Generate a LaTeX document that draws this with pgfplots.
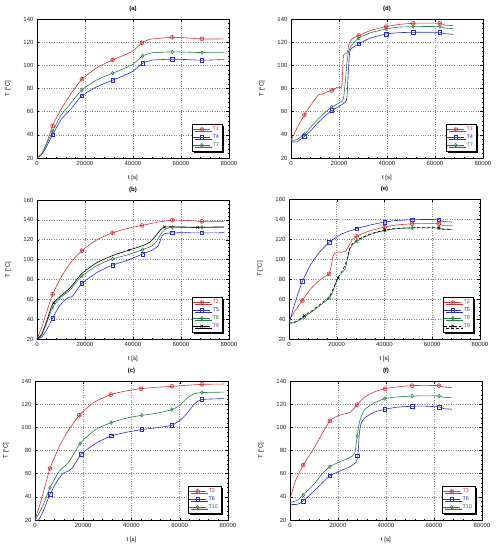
\documentclass[border=0pt]{standalone}
\usepackage{pgfplots}
\pgfplotsset{compat=1.18}
\usepackage{fontspec}
\setmainfont{Liberation Sans}
\usetikzlibrary{shadows}
\definecolor{myred}{RGB}{205,55,60}
\definecolor{myblue}{RGB}{45,45,195}
\definecolor{mygreen}{RGB}{40,125,70}
\definecolor{myviolet}{RGB}{110,60,150}
\pgfplotsset{
 panel/.style={
  scale only axis, width=192pt, height=139pt,
  xmin=0, xmax=80000, ymin=20,
  xtick={0,20000,40000,60000,80000},
  scaled x ticks=false,
  /pgf/number format/1000 sep={},
  /pgf/number format/assume math mode=true,
  tick label style={font=\fontsize{6}{7}\selectfont, text=black!85},
  grid=major, major grid style={dotted, gray!90, line width=0.6pt},
  minor x tick num=4, minor y tick num=4,
  tick align=inside, xtick pos=both, ytick pos=both,
  major tick length=2.5pt, minor tick length=1.3pt,
  tick style={black, line width=0.4pt},
  axis line style={black, line width=0.5pt},
  xlabel={t [s]}, ylabel={T [\textdegree C]},
  every axis x label/.style={at={(axis description cs:0.5,0)}, yshift=-20pt, anchor=center, font=\fontsize{6}{7}\selectfont},
  every axis y label/.style={at={(axis description cs:0,0.5)}, xshift=-29pt, rotate=90, anchor=center, font=\fontsize{6}{7}\selectfont},
  every axis title/.style={at={(axis description cs:0.5,1)}, yshift=10pt, anchor=center, font=\bfseries\fontsize{6}{7}\selectfont},
  legend style={at={(0.965,0.05)}, anchor=south east, font=\fontsize{5.5}{6}\selectfont,
    draw=black, line width=0.5pt, inner sep=1pt, row sep=-1.5pt, fill=white,
    drop shadow={shadow xshift=1.8pt, shadow yshift=-1.8pt, fill=black, opacity=1}},
  legend cell align=left,
  legend image code/.code={\draw[mark repeat=2,mark phase=2,#1] plot coordinates {(0cm,0cm) (0.3cm,0cm) (0.6cm,0cm)};},
 },
 ln/.style={smooth, tension=0.35, line width=0.6pt, no marks, forget plot},
 mk/.style={only marks, forget plot, mark size=2pt, line width=0.5pt},
 rs/.style={myred, mark=oplus, mark options={fill=none}},
 bs/.style={myblue, mark=square, mark size=1.8pt},
 gs/.style={mygreen, mark=diamond, mark size=1.8pt},
 ks/.style={black, mark=x, mark size=1.8pt},
}
\begin{document}
\begin{tikzpicture}
\useasboundingbox (0,0) rectangle (499pt,-550pt);
% ---------- (a)
\begin{axis}[panel, at={(37pt,-158pt)}, anchor=south west, ymax=140, ytick={20,40,...,140}, title={(a)}]
\addplot[ln, myred] coordinates {(0,20) (2000,24) (4000,33) (6500,47.8) (10000,62) (14000,75) (18700,88) (25000,98) (31500,104.7) (36000,108.5) (40000,112.5) (43700,119.5) (47000,122.5) (52000,123.5) (56400,124.2) (62000,123.7) (68700,122.8) (78000,122.8)};
\addplot[mk, rs] coordinates {(6500,47.8) (18700,88) (31500,104.7) (43700,119.5) (56400,124.2) (68700,122.8)};
\addplot[ln, myblue] coordinates {(0,20) (2000,23) (4000,30) (6500,40.1) (10000,53) (14000,62) (18700,73.7) (25000,81.5) (31500,87.2) (36000,91) (40000,95) (44000,101.8) (48000,104.5) (56400,105.3) (62000,105) (68700,104.4) (78000,105)};
\addplot[mk, bs] coordinates {(6500,40.1) (18700,73.7) (31500,87.2) (44000,101.8) (56400,105.3) (68700,104.4)};
\addplot[ln, mygreen] coordinates {(0,20) (2000,23.5) (4000,32) (6500,43) (10000,57) (14000,67) (18700,78.8) (25000,87.5) (31500,93.2) (36000,97) (40000,101) (44000,108.1) (48000,110.8) (56400,111.6) (62000,111.4) (68700,111) (78000,111)};
\addplot[mk, gs] coordinates {(6500,43) (18700,78.8) (31500,93.2) (44000,108.1) (56400,111.6) (68700,111)};
\addlegendimage{rs, line width=0.6pt}\addlegendentry{\textcolor{myred}{T1}}
\addlegendimage{bs, line width=0.6pt}\addlegendentry{\textcolor{myblue}{T4}}
\addlegendimage{gs, line width=0.6pt}\addlegendentry{\textcolor{mygreen}{T7}}
\end{axis}
% ---------- (d)
\begin{axis}[panel, at={(291pt,-158pt)}, anchor=south west, ymax=140, ytick={20,40,...,140}, title={(d)}]
\addplot[ln, myred] coordinates {(0,35) (2500,46) (5600,57.3) (8000,65) (11400,74.5) (13000,75) (15000,77) (17000,78.3) (17800,80) (18300,79) (19000,81) (20500,81) (21200,82) (21800,108) (22500,110) (23300,110) (24200,118) (25500,123) (28200,125.7) (33000,130) (39600,133.4) (45000,135.3) (50900,136.3) (56000,136.5) (62000,136.3) (64000,134.8) (67600,134.3)};
\addplot[mk, rs] coordinates {(5600,57.3) (17000,78.3) (28200,125.7) (39600,133.4) (50900,136.3) (62000,136.3)};
\addplot[ln, myblue] coordinates {(0,33.8) (2500,34) (4000,36) (5600,38.7) (8000,43) (11000,50) (14000,56) (17000,61) (20000,64.5) (22500,68) (23300,72) (23900,95) (24500,112) (25500,115) (28200,118.5) (33000,123.5) (39600,127) (45000,128.2) (50900,128.5) (56000,128.6) (62000,128.5) (64000,127.3) (67600,126.8)};
\addplot[mk, bs] coordinates {(5600,38.7) (17000,61) (28200,118.5) (39600,127) (50900,128.5) (62000,128.5)};
\addplot[ln, mygreen] coordinates {(0,35) (2500,36) (5600,40.4) (8000,46) (11000,53) (14000,59) (17000,64) (20000,67.5) (21800,71) (22600,85) (23200,100) (24000,112) (25500,118) (28200,123.4) (33000,128) (39600,131.4) (45000,133) (50900,133.4) (56000,133.5) (62000,133.4) (64000,132.2) (67600,131.7)};
\addplot[mk, gs] coordinates {(5600,40.4) (17000,64) (28200,123.4) (39600,131.4) (50900,133.4) (62000,133.4)};
\addlegendimage{rs, line width=0.6pt}\addlegendentry{\textcolor{myred}{T1}}
\addlegendimage{bs, line width=0.6pt}\addlegendentry{\textcolor{myblue}{T4}}
\addlegendimage{gs, line width=0.6pt}\addlegendentry{\textcolor{mygreen}{T7}}
\end{axis}
% ---------- (b)
\begin{axis}[panel, at={(37pt,-339pt)}, anchor=south west, ymax=160, ytick={20,40,...,160}, title={(b)}]
\addplot[ln, myred] coordinates {(0,20) (2000,32) (4000,47) (6500,65) (10000,82) (14000,97) (18700,109) (25000,120) (31500,127) (38000,131.5) (43700,134.4) (50000,137.5) (56400,139.8) (62000,139.5) (68700,138.5) (78000,138.5)};
\addplot[mk, rs] coordinates {(6500,65) (18700,109) (31500,127) (43700,134.4) (56400,139.8) (68700,138.5)};
\addplot[ln, myblue] coordinates {(0,20) (2000,22) (4000,29) (6500,40.8) (9000,52) (11500,59) (13200,62) (14500,62.5) (16000,67) (18700,76) (25000,87) (31500,94.5) (38000,99.5) (44000,105.6) (48000,109.5) (50500,114) (51800,122) (53000,126) (56400,126.9) (62000,127) (68700,126.9) (78000,127)};
\addplot[mk, bs] coordinates {(6500,40.8) (18700,76) (31500,94.5) (44000,105.6) (56400,126.9) (68700,126.9)};
\addplot[ln, mygreen] coordinates {(0,20) (2000,24) (4000,36) (6500,52) (10000,62) (14000,70) (18700,83.5) (25000,94) (31500,100.6) (38000,105) (44000,110) (48000,114) (50000,119) (52000,127) (54000,131.5) (56400,132.5) (62000,132.5) (68700,132.5) (78000,132.5)};
\addplot[mk, gs] coordinates {(6500,52) (18700,83.5) (31500,100.6) (44000,110) (56400,132.5) (68700,132.5)};
\addplot[ln, black] coordinates {(0,20) (2000,25) (4000,38) (6500,55) (10000,63.5) (14000,72) (18700,86) (25000,97) (31500,104) (38400,109.6) (44000,114) (47000,117.5) (49500,124) (51500,130) (53100,132.8) (58000,133) (67000,132.5) (78000,133)};
\addplot[mk, ks] coordinates {(7000,56.5) (38400,109.6) (53100,132.8) (67000,132.5)};
\addlegendimage{rs, line width=0.6pt}\addlegendentry{\textcolor{myred}{T2}}
\addlegendimage{bs, line width=0.6pt}\addlegendentry{\textcolor{myblue}{T5}}
\addlegendimage{gs, line width=0.6pt}\addlegendentry{\textcolor{mygreen}{T8}}
\addlegendimage{ks, line width=0.6pt}\addlegendentry{\textcolor{myviolet}{T9}}
\end{axis}
% ---------- (e)
\begin{axis}[panel, at={(289pt,-339pt)}, anchor=south west, width=191pt, height=140pt, ymax=160, ytick={20,40,...,160}, title={(e)}]
\addplot[ln, myred] coordinates {(0,39) (2500,48) (5600,58.5) (9000,70) (12900,79) (15500,83) (16800,85.2) (17600,92) (18300,102) (19200,105.5) (20500,107) (22500,107) (23800,108) (25000,113) (26500,119) (28300,122.6) (33000,127.5) (40100,132) (45000,134) (51600,135.2) (57000,135.4) (62800,135.2) (64500,133.5) (68400,133.3)};
\addplot[mk, rs] coordinates {(5600,58.5) (16800,85.2) (28300,122.6) (40100,132) (51600,135.2) (62800,135.2)};
\addplot[ln, myblue] coordinates {(0,35) (2000,52) (4000,67) (5600,77.5) (9000,94) (12500,106) (16800,116.6) (22000,125) (28300,130.3) (34000,134) (40100,137) (45000,138.5) (51600,139.3) (57000,139.5) (62800,139.3) (64500,137.5) (68400,137)};
\addplot[mk, bs] coordinates {(5600,77.5) (16800,116.6) (28300,130.3) (40100,137) (51600,139.3) (62800,139.3)};
\addplot[ln, mygreen] coordinates {(0,35.7) (3000,37) (6300,42) (10000,48) (13500,54.5) (16800,60.8) (18500,68) (20100,80) (22000,86) (23500,90) (24500,100) (25500,110) (26500,114) (28500,118) (34000,124.5) (40100,128.6) (45000,130.3) (51600,131) (57000,131.2) (62800,131) (64500,129.5) (68400,129.3)};
\addplot[mk, gs] coordinates {(6300,42) (16800,60.8) (28500,118) (40100,128.6) (51600,131) (62800,131)};
\addplot[ln, black, densely dashed] coordinates {(0,35.7) (3000,37.5) (6300,43) (10000,49) (13500,55.5) (16800,62) (18500,70) (20600,81) (22000,87) (23500,94) (24500,102) (25500,111) (26500,115) (28500,119) (34000,125) (40100,129) (45000,130.6) (51600,131.3) (57000,131.4) (62800,131.2) (64500,130) (68400,129.6)};
\addplot[mk, ks] coordinates {(6500,43.2) (20600,81) (40100,129) (62800,131.2)};
\addlegendimage{rs, line width=0.6pt}\addlegendentry{\textcolor{myred}{T2}}
\addlegendimage{bs, line width=0.6pt}\addlegendentry{\textcolor{myblue}{T5}}
\addlegendimage{gs, line width=0.6pt}\addlegendentry{\textcolor{mygreen}{T8}}
\addlegendimage{ks, line width=0.6pt, densely dashed}\addlegendentry{\textcolor{myviolet}{T9}}
\end{axis}
% ---------- (c)
\begin{axis}[panel, at={(35pt,-520pt)}, anchor=south west, width=193pt, ymax=140, ytick={20,40,...,140}, title={(c)}]
\addplot[ln, myred] coordinates {(0,20.5) (2000,33) (4000,48) (6200,64.4) (10100,83.7) (14000,98) (18400,110.4) (24000,121) (31400,128.3) (38000,131.5) (44000,133.4) (50000,134.5) (56700,135.4) (63000,136.3) (69200,137.1) (78500,137.4)};
\addplot[mk, rs] coordinates {(6200,64.4) (18400,110.4) (31400,128.3) (44000,133.4) (56700,135.4) (69200,137.1)};
\addplot[ln, myblue] coordinates {(0,20) (1500,20) (3500,28) (6200,42.1) (9000,53) (11500,60) (13800,62.2) (15500,65) (19100,76.6) (25000,86) (31600,92.6) (38000,95.8) (44300,98.1) (50000,99.5) (56700,101.8) (60000,106) (63000,112) (66000,120) (69200,124) (78500,124.8)};
\addplot[mk, bs] coordinates {(6200,42.1) (19100,76.6) (31600,92.6) (44300,98.1) (56700,101.8) (69200,124)};
\addplot[ln, mygreen] coordinates {(0,20) (2000,27) (4000,36) (6200,47.8) (10000,62) (14000,70) (18700,86) (25000,98) (31600,104.1) (38000,108) (44300,110.4) (50000,112) (56700,115.3) (60000,119) (63000,125) (66000,129) (69200,130) (78500,130.4)};
\addplot[mk, gs] coordinates {(6200,47.8) (18700,86) (31600,104.1) (44300,110.4) (56700,115.3) (69200,130)};
\addlegendimage{rs, line width=0.6pt}\addlegendentry{\textcolor{myred}{T3}}
\addlegendimage{bs, line width=0.6pt}\addlegendentry{\textcolor{myblue}{T6}}
\addlegendimage{gs, line width=0.6pt}\addlegendentry{\textcolor{mygreen}{T10}}
\end{axis}
% ---------- (f)
\begin{axis}[panel, at={(290pt,-520pt)}, anchor=south west, ymax=140, ytick={20,40,...,140}, title={(f)}]
\addplot[ln, myred] coordinates {(0,38) (2500,55) (5500,67.4) (10000,82) (13500,95) (16600,105.6) (20000,110) (25000,113) (28000,119.6) (31000,126) (35000,130.5) (39500,133.4) (45000,135) (50900,136) (56000,136.2) (62100,136) (64000,134.8) (67500,134.3)};
\addplot[mk, rs] coordinates {(5500,67.4) (16600,105.6) (28000,119.6) (39500,133.4) (50900,136) (62100,136)};
\addplot[ln, myblue] coordinates {(0,33.5) (3000,33.5) (5500,36.4) (10000,45) (13500,52) (16600,58.2) (21000,62.5) (25000,66) (27500,70) (28300,76) (28900,95) (29600,103) (31000,108) (35000,113) (39500,115.6) (45000,117.5) (50900,118.2) (56000,118.3) (62100,117.6) (64000,116.2) (67500,115.6)};
\addplot[mk, bs] coordinates {(5500,36.4) (16600,58.2) (28000,75.4) (39500,115.6) (50900,118.2) (62100,117.6)};
\addplot[ln, mygreen] coordinates {(0,35) (3000,37) (5500,41.5) (10000,51) (13500,60) (16600,66) (21000,70.5) (25000,74) (27000,78) (28000,92.6) (29000,105) (31000,115) (35000,121) (39500,124.8) (45000,126.3) (50900,127) (56000,127.2) (62100,127) (64000,126) (67500,125.6)};
\addplot[mk, gs] coordinates {(5500,41.5) (16600,66) (28000,92.6) (39500,124.8) (50900,127) (62100,127)};
\addlegendimage{rs, line width=0.6pt}\addlegendentry{\textcolor{myred}{T3}}
\addlegendimage{bs, line width=0.6pt}\addlegendentry{\textcolor{myblue}{T6}}
\addlegendimage{gs, line width=0.6pt}\addlegendentry{\textcolor{mygreen}{T10}}
\end{axis}
\end{tikzpicture}
\end{document}
